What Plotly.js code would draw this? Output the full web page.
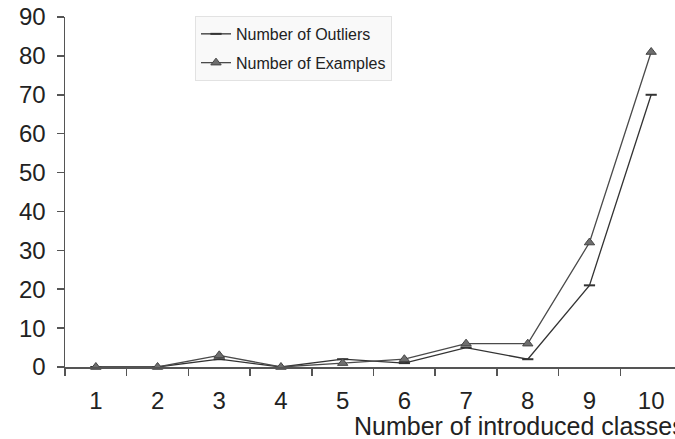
<!DOCTYPE html>
<html>
<head>
<meta charset="utf-8">
<script src="https://cdn.plot.ly/plotly-3.0.1.min.js"></script>
<style>
  html, body { margin: 0; padding: 0; background: #fff; }
  #chart { width: 675px; height: 439px; }
</style>
</head>
<body>
<div id="chart"></div>
<script>
// Number of introduced classes (category axis)
const classes = ["1", "2", "3", "4", "5", "6", "7", "8", "9", "10"];
// Counts per number of introduced classes
const outliers = [0, 0, 2, 0, 2, 1, 5, 2, 21, 70];
const examples = [0, 0, 3, 0, 1, 2, 6, 6, 32, 81];
const yTicks = [0, 10, 20, 30, 40, 50, 60, 70, 80, 90];

const FONT = "Liberation Sans, Arial, sans-serif";

const traces = [
  {
    x: classes, y: outliers, name: "Number of Outliers",
    type: "scatter", mode: "lines+markers", legendgroup: "a",
    line: { color: "#333333", width: 1.3 },
    marker: { symbol: "line-ew", size: 8, line: { color: "#333333", width: 2 } },
    cliponaxis: false
  },
  {
    x: classes, y: examples, name: "Number of Examples",
    type: "scatter", mode: "lines+markers", legendgroup: "b",
    line: { color: "#4a4a4a", width: 1.3 },
    marker: { symbol: "triangle-up", size: 9, color: "#6e6e6e", line: { color: "#444444", width: 1 } },
    cliponaxis: false
  }
];

const layout = {
  width: 675, height: 439,
  margin: { l: 65, r: 0, t: 17, b: 72 },
  paper_bgcolor: "#ffffff", plot_bgcolor: "#ffffff",
  font: { family: FONT, color: "#222222" },
  showlegend: true,
  legend: {
    x: (195 - 65) / 610, y: 1.003, xanchor: "left", yanchor: "top",
    bgcolor: "#f9f9f9", bordercolor: "#e2e2e2", borderwidth: 1,
    font: { family: FONT, size: 16, color: "#222222" },
    traceorder: "grouped", tracegroupgap: 5, itemwidth: 30
  },
  xaxis: {
    type: "category",
    range: [-0.5, 9.386],
    tickson: "boundaries",
    ticks: "outside", ticklen: 7, tickwidth: 1.5, tickcolor: "#555555",
    showline: true, linecolor: "#555555", linewidth: 1.5,
    showgrid: false, zeroline: false,
    tickfont: { family: FONT, size: 24, color: "#222222" },
    ticklabelstandoff: 12
  },
  yaxis: {
    range: [0, 90],
    tickmode: "array", tickvals: yTicks, ticktext: yTicks.map(String),
    ticks: "outside", ticklen: 7, tickwidth: 1.5, tickcolor: "#555555",
    showline: true, linecolor: "#555555", linewidth: 1.5,
    showgrid: false, zeroline: false,
    tickfont: { family: FONT, size: 24, color: "#222222" },
    ticklabelstandoff: 6
  },
  annotations: [
    {
      text: "Number of introduced classes",
      xref: "paper", yref: "paper",
      x: (352 - 65) / 610, y: -(426 - 367) / 350,
      xanchor: "left", yanchor: "middle",
      showarrow: false,
      font: { family: FONT, size: 25, color: "#222222" }
    }
  ]
};

Plotly.newPlot("chart", traces, layout, { displayModeBar: false, staticPlot: true });
</script>
</body>
</html>
